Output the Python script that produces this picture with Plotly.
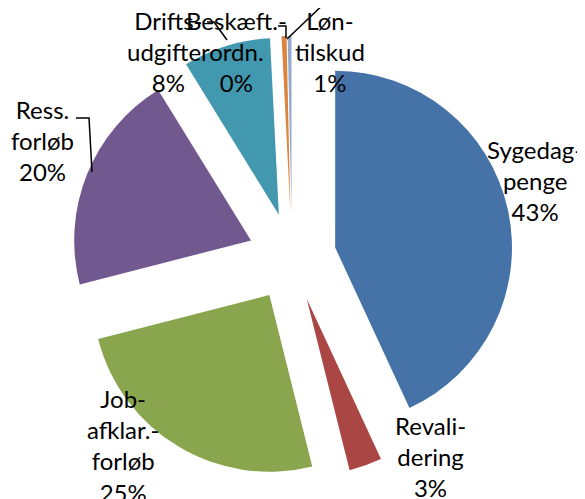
import plotly.graph_objects as go

W, H = 585, 499
OFF = 8  # page body margin

# data
categories = ["Sygedag-<br>penge", "Revali-<br>dering", "Job-<br>afklar.-<br>forløb",
              "Ress.<br>forløb", "Drifts-<br>udgifter", "Beskæft.-<br>ordn.", "Løn-<br>tilskud"]
shares = [43.1, 3.0, 24.9, 20.2, 8.0, 0.45, 0.35]
pct_labels = ["43%", "3%", "25%", "20%", "8%", "0%", "1%"]

colors = ["#4572A7", "#AA4643", "#89A54E", "#71588F", "#4198AF", "#DB843D", "#93A9CF"]

# label centres in pixels (x, y from top of window)
label_pos = [(535, 180), (430, 456), (123, 445), (42, 140), (168, 52), (236, 52), (330, 52)]


def px(x, y):
    return (x - OFF) / W, 1 - (y - OFF) / H


cx, cy, half = 292, 257, 221
x0, y1 = px(cx - half, cy - half)
x1, y0 = px(cx + half, cy + half)
fig = go.Figure(go.Pie(
    values=shares,
    labels=categories,
    sort=False,
    direction="clockwise",
    rotation=0,
    pull=0.25,
    marker=dict(colors=colors, line=dict(width=0)),
    textinfo="none",
    hoverinfo="skip",
    showlegend=False,
    domain=dict(x=[x0, x1], y=[y0, y1]),
))

for name, pct, (lx, ly) in zip(categories, pct_labels, label_pos):
    ax, ay = px(lx, ly)
    fig.add_annotation(x=ax, y=ay, xref="paper", yref="paper", showarrow=False,
                       xanchor="center", yanchor="middle",
                       text=name + "<br>" + pct, align="center",
                       font=dict(family="Lato", size=24, color="black"))

# leader lines
leaders = [
    [(76, 118), (89, 118), (92, 172)],
    [(207, 22), (214, 22), (227, 40)],
    [(278, 26), (286, 26), (286, 38)],
    [(328, 0), (287, 39)],
]
for pts in leaders:
    path = ""
    for i, (x, y) in enumerate(pts):
        X, Y = px(x, y)
        path += ("M" if i == 0 else "L") + f"{X:.4f},{Y:.4f} "
    fig.add_shape(type="path", path=path, xref="paper", yref="paper",
                  line=dict(color="black", width=1.5))

fig.update_layout(width=W, height=H, margin=dict(l=0, r=0, t=0, b=0),
                  paper_bgcolor="white", plot_bgcolor="white")
fig.write_html("out.html")
